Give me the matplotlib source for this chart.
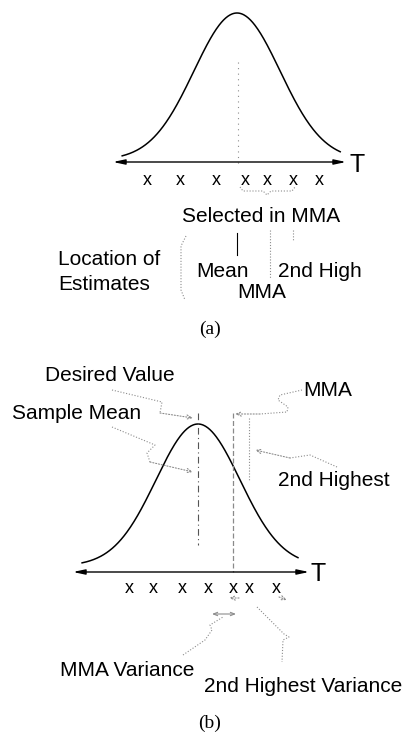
import numpy as np
import matplotlib
matplotlib.use('Agg')
import matplotlib.pyplot as plt

W, H = 412, 733

# estimates along the T axis, in units of the spread of the curve
est_a = [-2.09, -1.33, -0.47, 0.19, 0.70, 1.30, 1.91]
est_b = [-1.64, -1.07, -0.38, 0.24, 0.83, 1.21, 1.86]
mma_b = 0.83
second_b = est_b[-2]
desired_b = 0.0

labels_a = ['Selected in MMA', 'Location of', 'Estimates', 'Mean', 'MMA', '2nd High']
labels_b = ['Desired Value', 'Sample Mean', 'MMA', '2nd Highest',
            'MMA Variance', '2nd Highest Variance']

SANS = ['Liberation Sans', 'DejaVu Sans']
SERIF = ['Liberation Serif', 'DejaVu Serif']
FS = 15
GREY = '#8c8c8c'
DOT = (0, (1, 1.6))

fig = plt.figure(figsize=(W / 100, H / 100), dpi=100)


def make_panel(cx, sx, y0, y1):
    # cx: pixel of T=0, sx: pixels per unit, y0/y1: pixel rows of density 0 and 1
    ax = fig.add_axes([0, 0, 1, 1])
    ax.set_xlim(-cx / sx, (W - cx) / sx)
    ax.set_ylim((y0 - H) / (y0 - y1), y0 / (y0 - y1))
    ax.axis('off')
    row = lambda py: (y0 - py) / (y0 - y1)
    return ax, row


ax_a, row_a = make_panel(237, 43, 160, 13)
ax_b, row_b = make_panel(198, 42, 566, 424)

ov = fig.add_axes([0, 0, 1, 1])
ov.set_xlim(0, W)
ov.set_ylim(H, 0)
ov.axis('off')


def txt(x, y, s, ha='left', family=SANS, size=FS):
    ov.text(x, y, s, ha=ha, va='baseline', fontsize=size, family=family, color='black')


def leader(pts, arrow=True, color=GREY, lw=0.8):
    xs = [p[0] for p in pts]
    ys = [p[1] for p in pts]
    n = len(pts) - 1 if arrow else len(pts)
    ov.plot(xs[:n], ys[:n], color=color, lw=lw, ls=DOT)
    if arrow:
        ov.annotate('', xy=pts[-1], xytext=pts[-2],
                    arrowprops=dict(arrowstyle='->,head_length=0.35,head_width=0.15',
                                    color=color, lw=lw, ls=(0, (1, 1.6)),
                                    shrinkA=0, shrinkB=0))


def t_axis(x0, x1, y):
    ov.annotate('', xy=(x1, y), xytext=(x0, y),
                arrowprops=dict(arrowstyle='<|-|>,head_length=0.7,head_width=0.15',
                                color='black', lw=1.0, shrinkA=0, shrinkB=0))


# ---------------- panel (a) ----------------
t = np.linspace(-2.67, 2.40, 300)
ax_a.plot(t, np.exp(-t ** 2 / 2), color='black', lw=1.1)
mean_a = np.mean(est_a)
ax_a.plot([mean_a, mean_a], [row_a(62), row_a(165)], color=GREY, lw=0.8, ls=(0, (1, 4)))
t_axis(113, 346, 162)
txt(350, 172, 'T', size=18)
for v in est_a:
    ax_a.text(v, row_a(185), 'x', ha='center', va='baseline', fontsize=13, family=SANS)

# brace under the selected estimates
leader([(240, 187), (243, 191), (263, 191), (267, 195), (271, 191), (292, 191), (295, 187)],
       arrow=False)
txt(182, 222, labels_a[0])
ov.plot([237, 237], [233, 255], color='black', lw=0.8)
leader([(270, 230), (270, 278)], arrow=False)
leader([(293, 230), (293, 240)], arrow=False)
leader([(186, 236), (181, 246), (181, 290), (185, 300)], arrow=False)
txt(58, 265, labels_a[1])
txt(58, 290, labels_a[2])
txt(196, 277, labels_a[3])
txt(237, 298, labels_a[4])
txt(278, 277, labels_a[5])
txt(210, 334, '(a)', ha='center', family=SERIF, size=14)

# ---------------- panel (b) ----------------
t = np.linspace(-2.76, 2.38, 300)
ax_b.plot(t, np.exp(-t ** 2 / 2), color='black', lw=1.1)
ax_b.plot([desired_b, desired_b], [row_b(413), row_b(545)], color='#555555', lw=0.8,
          ls=(0, (6, 3, 1, 3)))
ax_b.plot([mma_b, mma_b], [row_b(413), row_b(572)], color='#8a8a8a', lw=0.9, ls=(0, (4, 2)))
ax_b.plot([second_b, second_b], [row_b(418), row_b(480)], color=GREY, lw=0.8, ls=DOT)
t_axis(73, 309, 572)
txt(311, 581, 'T', size=18)
for v in est_b:
    ax_b.text(v, row_b(593), 'x', ha='center', va='baseline', fontsize=13, family=SANS)

leader([(112, 390), (162, 402), (160, 413), (193, 418)])
leader([(112, 427), (155, 445), (147, 453), (150, 462), (193, 472)])
leader([(302, 390), (280, 395), (278, 400), (288, 407), (287, 412), (260, 414), (235, 414)])
leader([(337, 467), (310, 455), (290, 458), (255, 450)])
leader([(239, 598), (229, 598)])
leader([(279, 597), (287, 600)])
ov.annotate('', xy=(212, 614), xytext=(236, 614),
            arrowprops=dict(arrowstyle='<->,head_length=0.3,head_width=0.12',
                            color=GREY, lw=0.8, shrinkA=0, shrinkB=0))
leader([(183, 655), (205, 640), (212, 630), (210, 625), (223, 617)], arrow=False)
leader([(257, 607), (284, 634), (289, 637), (283, 640), (282, 662)], arrow=False)

txt(45, 381, labels_b[0])
txt(12, 419, labels_b[1])
txt(303, 396, labels_b[2])
txt(278, 486, labels_b[3])
txt(60, 676, labels_b[4])
txt(204, 692, labels_b[5])
txt(210, 728, '(b)', ha='center', family=SERIF, size=14)

fig.savefig('out.png', dpi=100)
